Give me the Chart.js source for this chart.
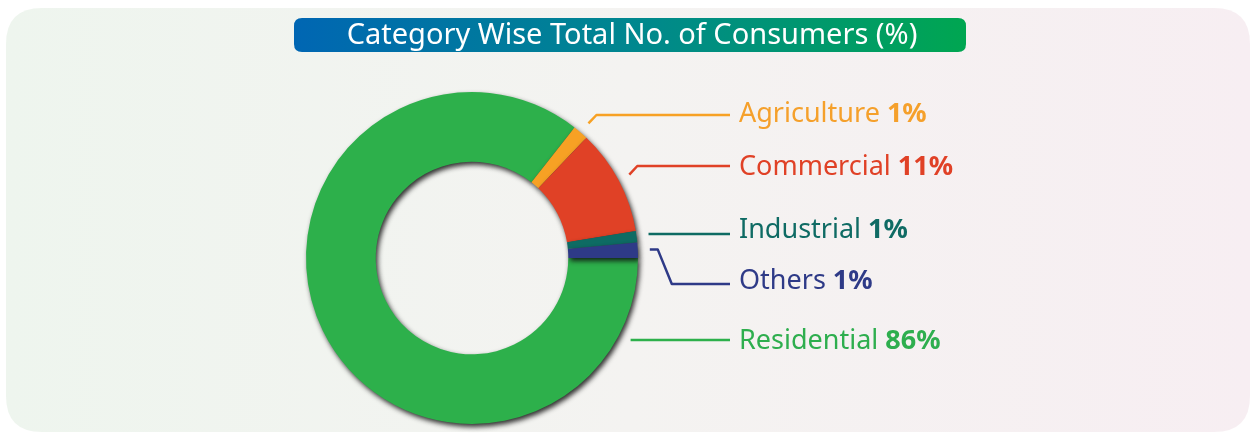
<!DOCTYPE html>
<html>
<head>
<meta charset="utf-8">
<script src="https://cdn.jsdelivr.net/npm/chart.js@4.4.1/dist/chart.umd.min.js"></script>
<style>
  html, body { margin: 0; padding: 0; background: #ffffff; }
  #wrap { width: 1254px; height: 434px; position: relative; }
</style>
</head>
<body>
<div id="wrap"><canvas id="chart" width="1254" height="434"></canvas></div>
<script>
// data (clockwise from 3 o'clock)
const categories = ['Residential', 'Agriculture', 'Commercial', 'Industrial', 'Others'];
const shares = [85.6, 1.5, 10.3, 1.1, 1.5];
const shareLabels = ['86%', '1%', '11%', '1%', '1%'];
const sliceColors = ['#2db04b', '#f7a124', '#e04126', '#0e6b63', '#2e3a87'];
const textColors = ['#2eae4e', '#f5a02b', '#e04126', '#0f6b64', '#2e3a87'];

const titleText = 'Category Wise Total No. of Consumers (%)';

// where each label sits (y) and where its leader line meets it
const labelY = { Residential: 341, Agriculture: 114, Commercial: 167, Industrial: 230, Others: 281 };
const lineY = { Residential: 340, Agriculture: 115, Commercial: 166, Industrial: 234, Others: 284 };

function roundRect(ctx, x, y, w, h, r) {
  ctx.beginPath();
  ctx.moveTo(x + r, y);
  ctx.lineTo(x + w - r, y);
  ctx.quadraticCurveTo(x + w, y, x + w, y + r);
  ctx.lineTo(x + w, y + h - r);
  ctx.quadraticCurveTo(x + w, y + h, x + w - r, y + h);
  ctx.lineTo(x + r, y + h);
  ctx.quadraticCurveTo(x, y + h, x, y + h - r);
  ctx.lineTo(x, y + r);
  ctx.quadraticCurveTo(x, y, x + r, y);
  ctx.closePath();
}

const panelPlugin = {
  id: 'panel',
  beforeDraw(chart) {
    const ctx = chart.ctx;
    ctx.save();
    const g = ctx.createLinearGradient(6, 0, 1250, 0);
    g.addColorStop(0, '#eef5ee');
    g.addColorStop(0.5, '#f4f3f1');
    g.addColorStop(1, '#f7eef2');
    ctx.fillStyle = g;
    roundRect(ctx, 6, 8, 1244, 424, 36);
    ctx.fill();

    // title pill
    const tg = ctx.createLinearGradient(294, 0, 966, 0);
    tg.addColorStop(0, '#0066b3');
    tg.addColorStop(0.5, '#00878f');
    tg.addColorStop(1, '#00a651');
    ctx.fillStyle = tg;
    roundRect(ctx, 294, 18, 672, 34, 8);
    ctx.fill();
    ctx.fillStyle = '#ffffff';
    ctx.font = '29px "Noto Sans"';
    ctx.textAlign = 'center';
    ctx.textBaseline = 'middle';
    ctx.fillText(titleText, 632, 36);
    ctx.restore();
  },
  beforeDatasetsDraw(chart) {
    const ctx = chart.ctx;
    ctx.save();
    ctx.shadowColor = 'rgba(15,15,15,0.85)';
    ctx.shadowBlur = 5;
    ctx.shadowOffsetX = 2;
    ctx.shadowOffsetY = 3;
  },
  afterDatasetsDraw(chart) {
    const ctx = chart.ctx;
    ctx.restore();

    const meta = chart.getDatasetMeta(0);
    ctx.save();
    ctx.lineWidth = 2.5;
    ctx.lineJoin = 'round';
    meta.data.forEach((arc, i) => {
      const name = categories[i];
      const r = arc.outerRadius + 12;
      let a = (arc.startAngle + arc.endAngle) / 2;
      if (name === 'Residential') a = 27 * Math.PI / 180;
      const sx = arc.x + Math.cos(a) * r;
      let sy = arc.y + Math.sin(a) * r;
      const ly = lineY[name];
      ctx.strokeStyle = sliceColors[i];
      ctx.beginPath();
      if (Math.abs(ly - sy) < 6) {
        ctx.moveTo(sx, ly);
        ctx.lineTo(730, ly);
      } else if (ly < sy) {
        ctx.moveTo(sx, sy);
        ctx.lineTo(sx + 8, ly);
        ctx.lineTo(730, ly);
      } else {
        ctx.moveTo(sx, sy);
        ctx.lineTo(sx + 8, sy);
        ctx.lineTo(sx + 22, ly);
        ctx.lineTo(730, ly);
      }
      ctx.stroke();

      // label text
      ctx.textBaseline = 'middle';
      ctx.textAlign = 'left';
      ctx.fillStyle = textColors[i];
      ctx.font = '27px "Noto Sans"';
      const nameText = name + ' ';
      ctx.fillText(nameText, 739, labelY[name]);
      const w = ctx.measureText(nameText).width;
      ctx.font = 'bold 27px "Noto Sans"';
      ctx.fillText(shareLabels[i], 739 + w, labelY[name]);
    });
    ctx.restore();
  }
};

const ctx = document.getElementById('chart').getContext('2d');
new Chart(ctx, {
  type: 'doughnut',
  data: {
    labels: categories,
    datasets: [{
      data: shares,
      backgroundColor: sliceColors,
      borderWidth: 0,
      hoverOffset: 0
    }]
  },
  options: {
    responsive: false,
    animation: false,
    rotation: 90,
    cutout: '58%',
    layout: { padding: { left: 306, right: 616, top: 92, bottom: 10 } },
    plugins: {
      legend: { display: false },
      tooltip: { enabled: false }
    },
    events: []
  },
  plugins: [panelPlugin]
});
</script>
</body>
</html>
